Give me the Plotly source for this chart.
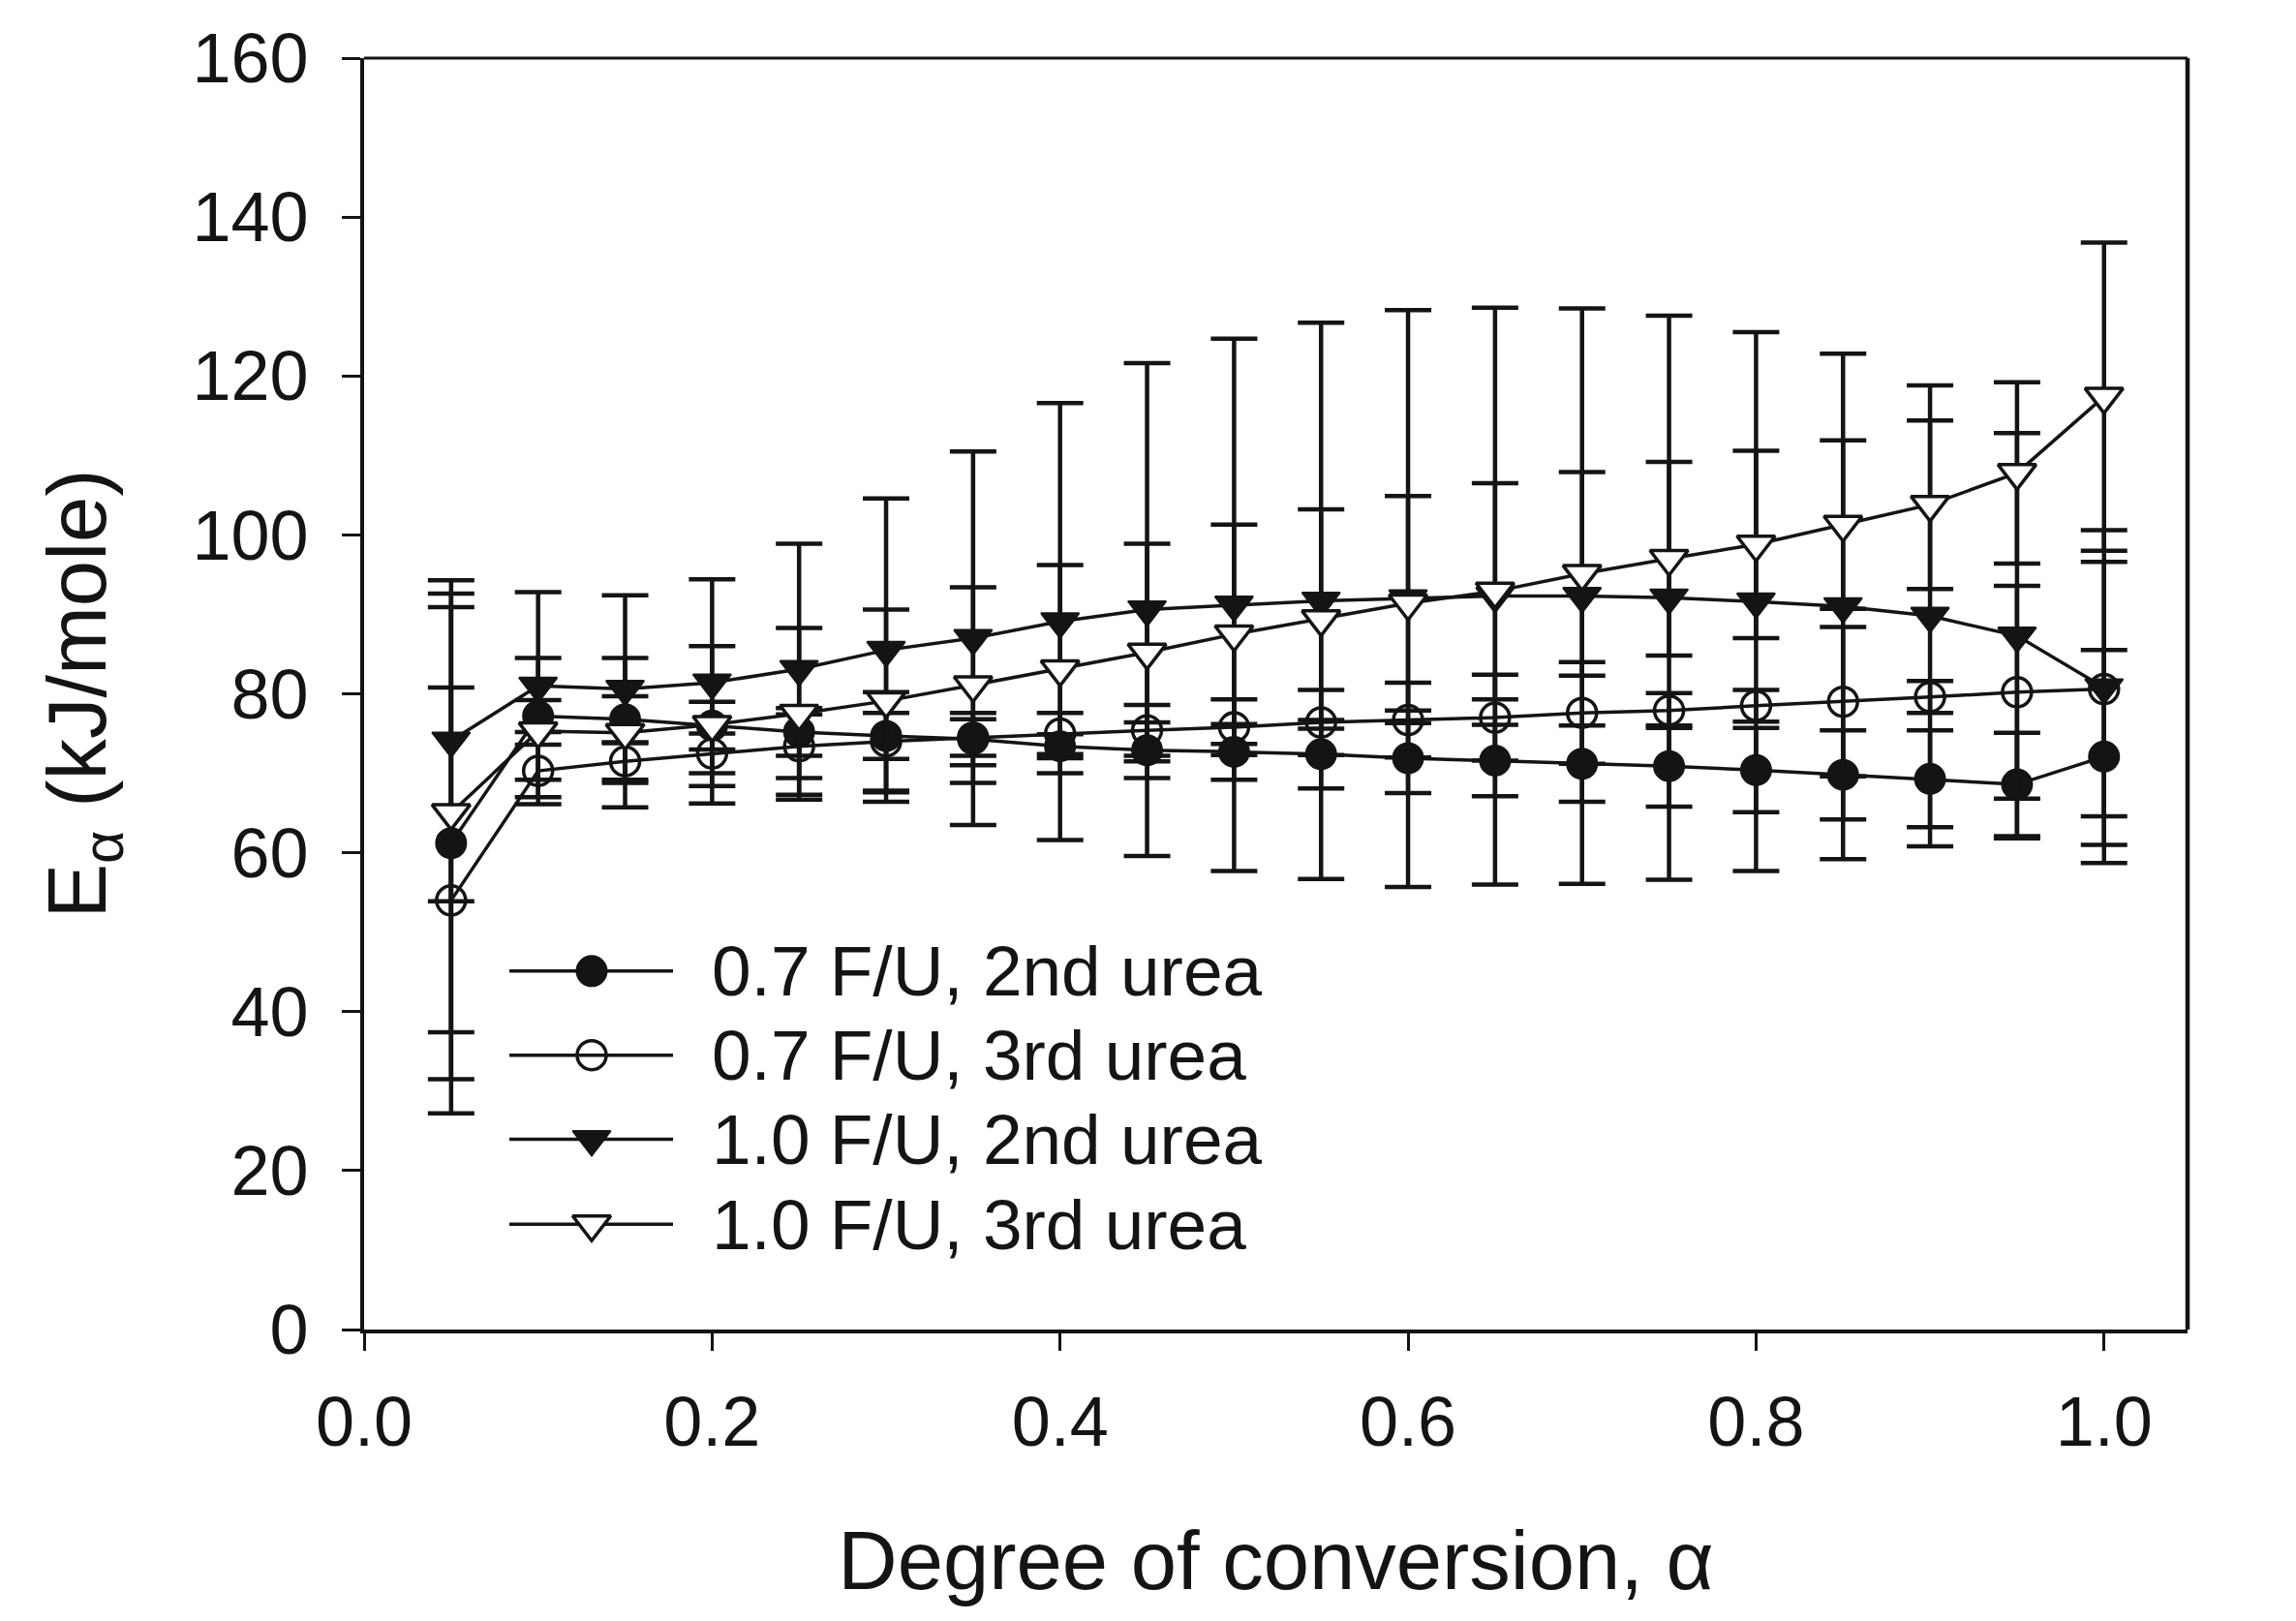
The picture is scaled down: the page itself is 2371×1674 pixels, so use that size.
import plotly.graph_objects as go

# ---------------- data ----------------
alpha = [0.05, 0.10, 0.15, 0.20, 0.25, 0.30, 0.35, 0.40, 0.45, 0.50,
         0.55, 0.60, 0.65, 0.70, 0.75, 0.80, 0.85, 0.90, 0.95, 1.00]

names = ["0.7 F/U, 2nd urea", "0.7 F/U, 3rd urea", "1.0 F/U, 2nd urea", "1.0 F/U, 3rd urea"]

ea_07_2nd = [61.2, 77.2, 76.8, 76.0, 75.2, 74.7, 74.3, 73.4, 72.9, 72.7,
             72.4, 71.9, 71.6, 71.2, 70.9, 70.4, 69.8, 69.3, 68.6, 72.1]
err_07_2nd = [29.7, 2.0, 2.9, 3.0, 3.0, 2.9, 3.3, 1.5, 3.5, 3.5,
              4.3, 4.4, 4.5, 4.8, 5.1, 5.3, 5.6, 6.1, 6.5, 13.4]

ea_07_3rd = [54.0, 70.3, 71.5, 72.5, 73.4, 74.0, 74.5, 75.0, 75.4, 75.8,
             76.4, 76.7, 77.0, 77.6, 77.9, 78.5, 79.0, 79.6, 80.2, 80.6]
err_07_3rd = [26.8, 3.3, 2.3, 2.5, 4.0, 6.2, 2.3, 2.6, 3.2, 3.5,
              4.1, 4.7, 5.4, 6.4, 2.2, 2.0, 9.4, 2.0, 13.4, 16.0]

ea_10_2nd = [74.1, 81.0, 80.6, 81.4, 83.1, 85.5, 87.0, 89.1, 90.6, 91.2,
             91.7, 92.0, 92.3, 92.3, 92.1, 91.6, 91.0, 89.8, 87.3, 80.8]
err_10_2nd = [20.2, 11.8, 11.8, 13.0, 15.8, 19.1, 23.5, 27.5, 31.0, 33.5,
              35.0, 36.3, 36.3, 36.2, 35.5, 33.9, 31.8, 29.0, 25.5, 19.8]

ea_10_3rd = [65.0, 75.3, 75.1, 76.1, 77.5, 79.1, 81.1, 83.1, 85.2, 87.5,
             89.4, 91.4, 92.9, 95.1, 97.0, 98.8, 101.3, 103.8, 107.8, 117.4]
err_10_3rd = [27.6, 9.2, 9.4, 9.9, 10.8, 11.5, 12.3, 13.1, 13.7, 13.8,
              13.8, 13.5, 13.6, 12.8, 12.2, 11.8, 10.6, 10.6, 11.4, 19.4]

x_ticks = [0.0, 0.2, 0.4, 0.6, 0.8, 1.0]
x_ticklabels = ["0.0", "0.2", "0.4", "0.6", "0.8", "1.0"]
y_ticks = [0, 20, 40, 60, 80, 100, 120, 140, 160]

# ---------------- style ----------------
INK = "#141414"
FONT = "Liberation Sans, Arial, sans-serif"
PAGE_W, PAGE_H = 2371, 1674
BODY = 8                       # default page body margin
W, H = PAGE_W - 2 * BODY, PAGE_H - 2 * BODY
L, R, T, B = 376, 2259, 57, 1373   # plot-area box in page pixels

styles = [
    dict(symbol="circle", size=31, color=INK, line=dict(color=INK, width=2)),
    dict(symbol="circle", size=30, color="rgba(255,255,255,0)", line=dict(color=INK, width=3.5)),
    dict(symbol="triangle-down", size=34, color=INK, line=dict(color=INK, width=2)),
    dict(symbol="triangle-down", size=34, color="white", line=dict(color=INK, width=3.5)),
]
series = [(ea_07_2nd, err_07_2nd), (ea_07_3rd, err_07_3rd),
          (ea_10_2nd, err_10_2nd), (ea_10_3rd, err_10_3rd)]

fig = go.Figure()
for (vals, errs), name, mk in zip(series, names, styles):
    fig.add_trace(go.Scatter(
        x=alpha, y=vals, name=name, mode="lines+markers",
        line=dict(color=INK, width=3.5),
        marker=mk,
        error_y=dict(type="data", array=errs, visible=True,
                     color=INK, thickness=4.5, width=24),
        showlegend=False,
    ))

# ---- custom legend (long key lines like the original) on a pixel overlay axis ----
leg_rows = [1002, 1089, 1176, 1264]
leg_x0, leg_x1, leg_xm, leg_tx = 526, 695, 611, 733
for row, name, mk in zip(leg_rows, names, styles):
    fig.add_trace(go.Scatter(
        x=[leg_x0, leg_x1], y=[row, row], mode="lines",
        line=dict(color=INK, width=3.5), xaxis="x2", yaxis="y2",
        showlegend=False, hoverinfo="skip"))
    fig.add_trace(go.Scatter(
        x=[leg_xm], y=[row], mode="markers", marker=mk,
        xaxis="x2", yaxis="y2", showlegend=False, hoverinfo="skip"))
    fig.add_annotation(x=leg_tx, y=row, xref="x2", yref="y2", text=name,
                       showarrow=False, xanchor="left", yanchor="middle",
                       font=dict(family=FONT, size=73, color=INK))

fig.update_layout(
    width=W, height=H,
    margin=dict(l=L - BODY, r=W - (R - BODY), t=T - BODY, b=H - (B - BODY), pad=0),
    paper_bgcolor="white", plot_bgcolor="white",
    font=dict(family=FONT, color=INK),
    xaxis=dict(
        range=[0, 1.048], tickvals=x_ticks, ticktext=x_ticklabels,
        showgrid=False, zeroline=False, showline=True, linecolor=INK, linewidth=4,
        ticks="outside", ticklen=18, tickwidth=2.5, tickcolor=INK,
        tickfont=dict(size=72, color=INK), ticklabelstandoff=12,
        title=dict(text="Degree of conversion, α", font=dict(size=85, color=INK), standoff=75),
    ),
    yaxis=dict(
        range=[0, 160], tickvals=y_ticks,
        showgrid=False, zeroline=False, showline=True, linecolor=INK, linewidth=4,
        ticks="outside", ticklen=19, tickwidth=2.5, tickcolor=INK,
        tickfont=dict(size=72, color=INK), ticklabelstandoff=20,
        title=dict(text="E<sub>α</sub> (kJ/mole)", font=dict(size=85, color=INK), standoff=62),
    ),
    xaxis2=dict(range=[L, R], overlaying="x", anchor="y2", visible=False, fixedrange=True),
    yaxis2=dict(range=[B, T], overlaying="y", anchor="x2", visible=False, fixedrange=True),
    shapes=[
        dict(type="line", xref="paper", yref="paper", x0=0, x1=1, y0=1, y1=1,
             line=dict(color=INK, width=3)),
        dict(type="line", xref="paper", yref="paper", x0=1, x1=1, y0=0, y1=1,
             line=dict(color=INK, width=4.5)),
    ],
)

fig.write_html("out.html")
